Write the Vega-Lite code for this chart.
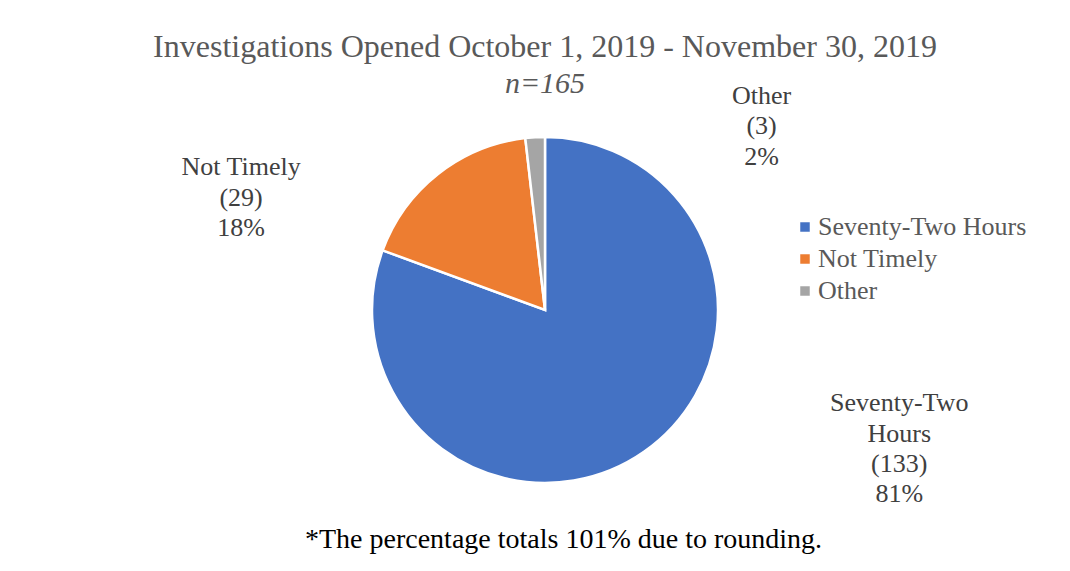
{
  "$schema": "https://vega.github.io/schema/vega-lite/v6.json",
  "width": 1050,
  "height": 522,
  "autosize": {"type": "none"},
  "padding": {"left": 20, "top": 49, "right": 0, "bottom": 0},
  "background": "white",
  "config": {"view": {"stroke": null}, "font": "Liberation Serif"},
  "title": {
    "text": "Investigations Opened October 1, 2019 - November 30, 2019",
    "subtitle": "n=165",
    "font": "Liberation Serif",
    "fontSize": 32,
    "fontWeight": "normal",
    "color": "#595959",
    "subtitleFont": "Liberation Serif",
    "subtitleFontSize": 30,
    "subtitleFontStyle": "italic",
    "subtitleColor": "#595959",
    "subtitlePadding": 5,
    "anchor": "middle",
    "offset": -51
  },
  "data": {
    "values": [
      {"category": "Seventy-Two Hours", "count": 133, "label": "Seventy-Two\nHours\n(133)\n81%"},
      {"category": "Not Timely", "count": 29, "label": "Not Timely\n(29)\n18%"},
      {"category": "Other", "count": 3, "label": "Other\n(3)\n2%"}
    ]
  },
  "layer": [
    {
      "mark": {"type": "arc", "outerRadius": 173, "stroke": "white", "strokeWidth": 2.5},
      "encoding": {
        "theta": {"field": "count", "type": "quantitative", "stack": true},
        "order": {"field": "count", "type": "quantitative", "sort": "descending"},
        "color": {
          "field": "category",
          "type": "nominal",
          "sort": ["Seventy-Two Hours", "Not Timely", "Other"],
          "scale": {
            "domain": ["Seventy-Two Hours", "Not Timely", "Other"],
            "range": ["#4472C4", "#ED7D31", "#A5A5A5"]
          },
          "legend": {
            "title": null,
            "orient": "none",
            "legendX": 772,
            "legendY": 165,
            "symbolType": "square",
            "symbolSize": 90,
            "symbolStrokeWidth": 0,
            "labelFont": "Liberation Serif",
            "labelFontSize": 26,
            "labelColor": "#595959",
            "labelOffset": 0,
            "labelLimit": 400,
            "rowPadding": 6,
            "padding": 0
          }
        }
      }
    },
    {
      "mark": {"type": "text", "radius": 114, "dx": 289, "dy": 0, "align": "center", "baseline": "middle", "fontSize": 26, "lineHeight": 30.3, "lineBreak": "\n", "color": "#404040"},
      "encoding": {
        "theta": {"field": "count", "type": "quantitative", "stack": true},
        "order": {"field": "count", "type": "quantitative", "sort": "descending"},
        "text": {"condition": {"test": "datum.category === 'Seventy-Two Hours'", "field": "label"}, "value": ""}
      }
    },
    {
      "mark": {"type": "text", "radius": 200, "dx": -180.3, "dy": 14.7, "align": "center", "baseline": "middle", "fontSize": 26, "lineHeight": 30.3, "lineBreak": "\n", "color": "#404040"},
      "encoding": {
        "theta": {"field": "count", "type": "quantitative", "stack": true},
        "order": {"field": "count", "type": "quantitative", "sort": "descending"},
        "text": {"condition": {"test": "datum.category === 'Not Timely'", "field": "label"}, "value": ""}
      }
    },
    {
      "mark": {"type": "text", "radius": 200, "dx": 228, "dy": -14.3, "align": "center", "baseline": "middle", "fontSize": 26, "lineHeight": 30.3, "lineBreak": "\n", "color": "#404040"},
      "encoding": {
        "theta": {"field": "count", "type": "quantitative", "stack": true},
        "order": {"field": "count", "type": "quantitative", "sort": "descending"},
        "text": {"condition": {"test": "datum.category === 'Other'", "field": "label"}, "value": ""}
      }
    },
    {
      "mark": {"type": "point", "opacity": 0, "size": 0},
      "encoding": {
        "x": {
          "field": "count",
          "type": "quantitative",
          "axis": {
            "orient": "bottom",
            "title": "*The percentage totals 101% due to rounding.",
            "titleFont": "Liberation Serif",
            "titleFontSize": 28,
            "titleFontWeight": "normal",
            "titleColor": "#000000",
            "titleAlign": "center",
            "titleBaseline": "alphabetic",
            "titleX": 543,
            "titleY": -24,
            "labels": false,
            "ticks": false,
            "domain": false,
            "grid": false
          }
        }
      }
    }
  ]
}
